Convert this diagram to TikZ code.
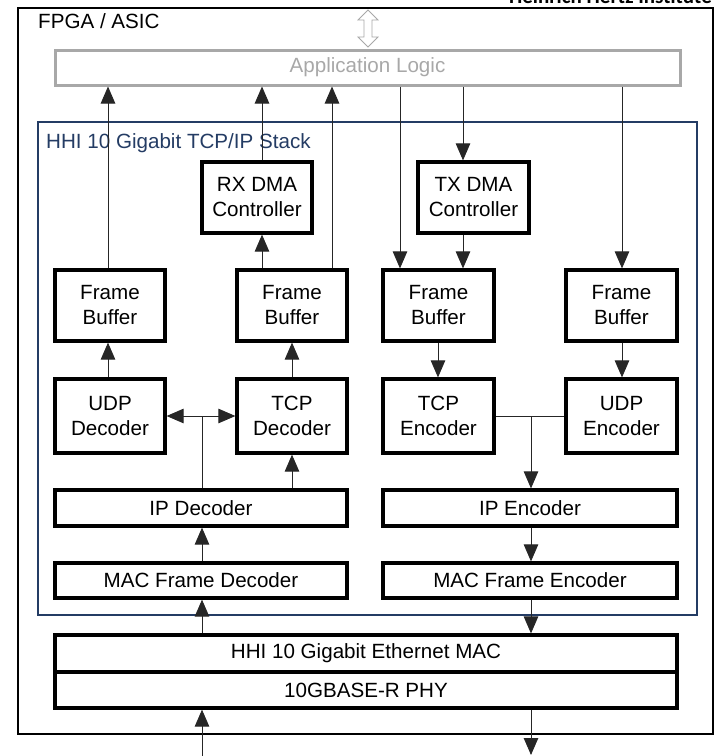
\documentclass[tikz,border=0pt]{standalone}
\usepackage{fontspec}
\setmainfont{Liberation Sans}
\newfontfamily\hhifont{Carlito}
\usetikzlibrary{arrows.meta}
\definecolor{navy}{RGB}{36,60,100}
\definecolor{appgray}{RGB}{168,168,168}
\begin{document}
\begin{tikzpicture}[x=1pt,y=-1pt,
  blk/.style={draw=black,line width=3.2pt,fill=white,align=center,inner sep=0pt,
    font=\fontsize{20.6}{25}\selectfont},
  con/.style={line width=0.9pt,draw=black!85},
  arr/.style={con,-{Triangle[length=17pt,width=14.5pt]}},
  lbl/.style={font=\fontsize{20.6}{24}\selectfont,inner sep=0pt}]
\useasboundingbox (0,0) rectangle (719,756);
\clip (0,0) rectangle (719,756);
% outer box
\draw[line width=2.2pt] (18,8) rectangle (713,734);
\node[lbl,anchor=west] (fpga) at (38,21) {FPGA / ASIC};
\node[font=\hhifont\bfseries\fontsize{21}{24}\selectfont,inner sep=0pt,anchor=base east] (hhi) at (712,3) {Heinrich Hertz Institute};
% application logic
\node[draw=appgray,line width=3pt,minimum width=625pt,minimum height=35pt,inner sep=0pt,
  text=appgray,font=\fontsize{20.6}{24}\selectfont] (app) at (367.5,67.5) {Application Logic};
% hollow double arrow
\draw[appgray,line width=0.8pt,fill=white] (368,10) -- (378,20) -- (372,20) -- (372,37) -- (378,37)
  -- (368,47) -- (358,37) -- (364,37) -- (364,20) -- (358,20) -- cycle;
% stack
\draw[navy,line width=2pt] (38,122) rectangle (697,615);
\node[lbl,anchor=west,text=navy] (stk) at (46,143) {HHI 10 Gigabit TCP/IP Stack};
% blocks
\node[blk,minimum width=110pt,minimum height=71pt] (rx) at (257,197.5) {RX DMA\\Controller};
\node[blk,minimum width=111pt,minimum height=71pt] (tx) at (473.5,197.5) {TX DMA\\Controller};
\node[blk,minimum width=110pt,minimum height=71pt] (fb1) at (110,305.5) {Frame\\Buffer};
\node[blk,minimum width=110pt,minimum height=71pt] (fb2) at (292,305.5) {Frame\\Buffer};
\node[blk,minimum width=111pt,minimum height=71pt] (fb3) at (438.5,305.5) {Frame\\Buffer};
\node[blk,minimum width=111pt,minimum height=71pt] (fb4) at (621.5,305.5) {Frame\\Buffer};
\node[blk,minimum width=110pt,minimum height=74pt] (udpd) at (110,416) {UDP\\Decoder};
\node[blk,minimum width=110pt,minimum height=74pt] (tcpd) at (292,416) {TCP\\Decoder};
\node[blk,minimum width=111pt,minimum height=74pt] (tcpe) at (438.5,416) {TCP\\Encoder};
\node[blk,minimum width=111pt,minimum height=74pt] (udpe) at (621.5,416) {UDP\\Encoder};
\node[blk,minimum width=292pt,minimum height=36pt] (ipd) at (201,508) {IP Decoder};
\node[blk,minimum width=294pt,minimum height=36pt] (ipe) at (530,508) {IP Encoder};
\node[blk,minimum width=292pt,minimum height=35pt] (macd) at (201,580.5) {MAC Frame Decoder};
\node[blk,minimum width=294pt,minimum height=35pt] (mace) at (530,580.5) {MAC Frame Encoder};
\node[blk,minimum width=622pt,minimum height=37pt] (emac) at (366,653.5) {HHI 10 Gigabit Ethernet MAC};
\node[blk,minimum width=622pt,minimum height=36pt] (phy) at (366,690) {10GBASE-R PHY};
% x positions
\coordinate (xa) at (108,0);
\coordinate (xb) at (262,0);
\coordinate (xc) at (332,0);
\coordinate (xd) at (292,0);
\coordinate (xe) at (202,0);
\coordinate (xf) at (400,0);
\coordinate (xg) at (463,0);
\coordinate (xh) at (438,0);
\coordinate (xi) at (622,0);
\coordinate (xj) at (531,0);
\coordinate (inb) at (202,756);
\coordinate (outb) at (531,755);
\coordinate (jd) at (202,416);
\coordinate (je) at (531,416);
% receive path
\draw[arr] (inb) -- (phy.south -| xe);
\draw[arr] (emac.north -| xe) -- (macd.south -| xe);
\draw[arr] (macd.north -| xe) -- (ipd.south -| xe);
\draw[con] (ipd.north -| xe) -- (jd);
\draw[arr] (jd) -- (udpd.east);
\draw[arr] (jd) -- (tcpd.west);
\draw[arr] (ipd.north -| xd) -- (tcpd.south -| xd);
\draw[arr] (udpd.north -| xa) -- (fb1.south -| xa);
\draw[arr] (tcpd.north -| xd) -- (fb2.south -| xd);
\draw[arr] (fb1.north -| xa) -- (app.south -| xa);
\draw[arr] (fb2.north -| xb) -- (rx.south -| xb);
\draw[arr] (rx.north -| xb) -- (app.south -| xb);
\draw[arr] (fb2.north -| xc) -- (app.south -| xc);
% transmit path
\draw[arr] (app.south -| xf) -- (fb3.north -| xf);
\draw[arr] (app.south -| xg) -- (tx.north -| xg);
\draw[arr] (tx.south -| xg) -- (fb3.north -| xg);
\draw[arr] (app.south -| xi) -- (fb4.north -| xi);
\draw[arr] (fb3.south -| xh) -- (tcpe.north -| xh);
\draw[arr] (fb4.south -| xi) -- (udpe.north -| xi);
\draw[con] (tcpe.east) -- (udpe.west);
\draw[arr] (je) -- (ipe.north -| xj);
\draw[arr] (ipe.south -| xj) -- (mace.north -| xj);
\draw[arr] (mace.south -| xj) -- (emac.north -| xj);
\draw[arr] (phy.south -| xj) -- (outb);
\end{tikzpicture}
\end{document}
